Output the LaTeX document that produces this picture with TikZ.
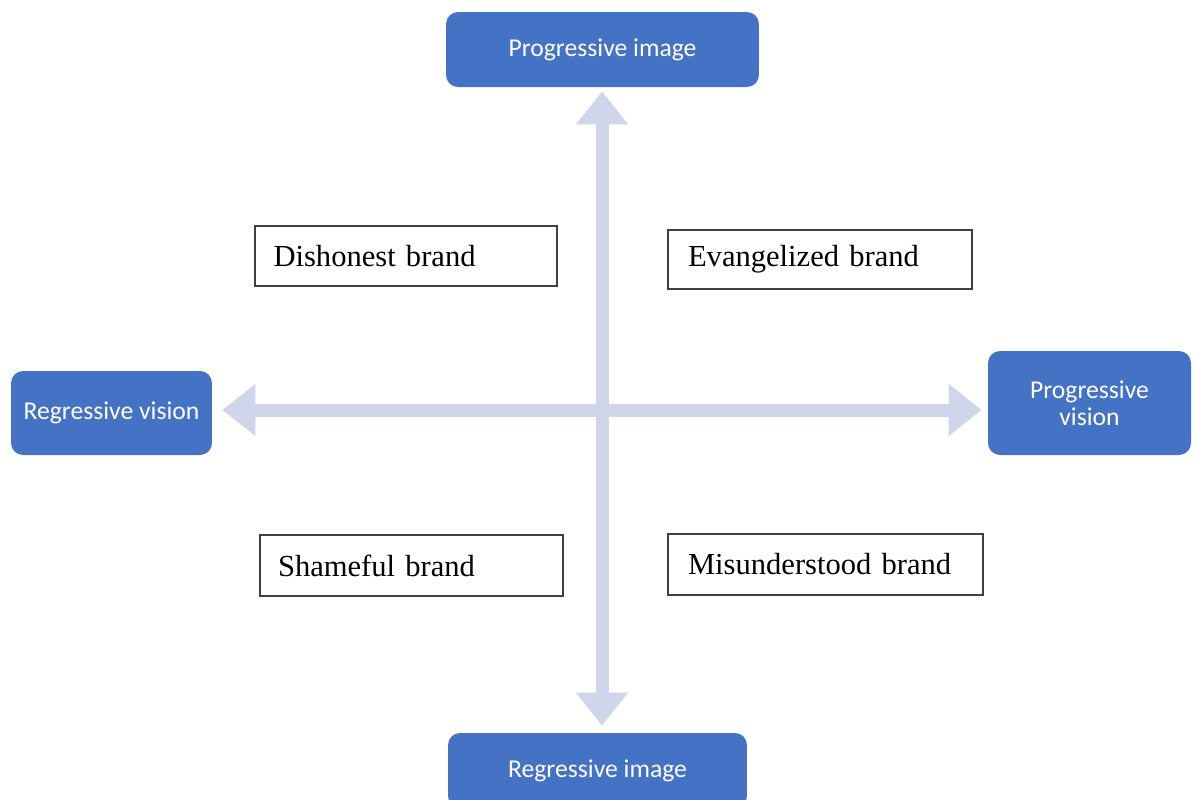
\documentclass[tikz,border=0pt]{standalone}
\usepackage{fontspec}
\setmainfont{Liberation Serif}
\newfontfamily\calib{Carlito}
\usetikzlibrary{arrows.meta}
\definecolor{boxblue}{HTML}{4472C4}
\definecolor{arrowlav}{HTML}{CFD5EA}
\definecolor{edgegray}{HTML}{404040}
\tikzset{
  bluebox/.style={fill=boxblue, draw=none, rounded corners=0.24cm, text=white,
    font=\calib\fontsize{14.6}{15.4}\selectfont, align=center, inner sep=0pt},
  brand/.style={draw=edgegray, line width=0.9pt, fill=white,
    font=\fontsize{17.4}{20}\selectfont, align=left, inner ysep=0pt},
  bigarrow/.style={draw=arrowlav, line width=0.26cm,
    arrows={Triangle[width=1cm,length=0.66cm,fill=arrowlav]-Triangle[width=1cm,length=0.66cm,fill=arrowlav]}}
}
\begin{document}
\begin{tikzpicture}[x=0.02cm,y=-0.02cm]
\useasboundingbox (0,0) rectangle (1195,799);
\clip (0,0) rectangle (1195,799);
\coordinate (c) at (602,410);
% blue boxes
\node[bluebox, minimum width=6.26cm, minimum height=1.5cm] (top) at (602.5,49.5) {Progressive image};
\node[bluebox, minimum width=5.98cm, minimum height=1.5cm] (bot) at (597.5,770.5) {Regressive image};
\node[bluebox, minimum width=4.02cm, minimum height=1.68cm] (left) at (111.5,413) {Regressive vision};
\node[bluebox, minimum width=4.06cm, minimum height=2.08cm] (right) at (1089.5,403) {Progressive\\vision};
% arrows
\draw[bigarrow, shorten <=0.08cm, shorten >=0.14cm] (top.south -| c) -- (bot.north -| c);
\draw[bigarrow, shorten <=0.2cm, shorten >=0.12cm] (left.east |- c) -- (right.west |- c);
% brand boxes
\node[brand, text width=5.30cm, inner xsep=0.37cm, minimum height=1.2cm] (dis) at (406,256) {Dishonest brand};
\node[brand, text width=5.28cm, inner xsep=0.40cm, minimum height=1.18cm] (eva) at (820,259.5) {Evangelized brand};
\node[brand, text width=5.34cm, inner xsep=0.36cm, minimum height=1.22cm] (sha) at (411.5,565.5) {Shameful brand};
\node[brand, text width=5.50cm, inner xsep=0.40cm, minimum height=1.22cm] (mis) at (825.5,564.5) {Misunderstood brand};
\end{tikzpicture}
\end{document}
